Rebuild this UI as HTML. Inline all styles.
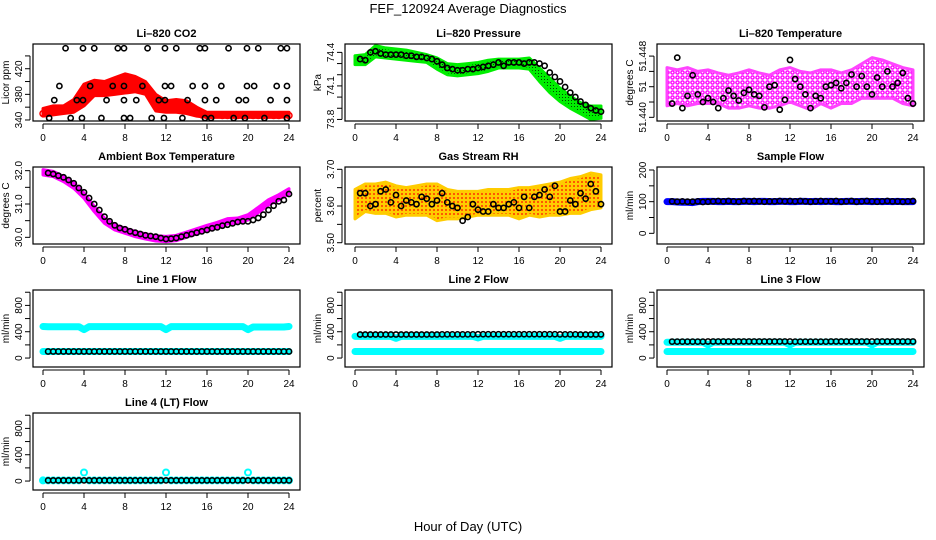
<!DOCTYPE html>
<html><head><meta charset="utf-8"><style>
html,body{margin:0;padding:0;background:#fff;}
svg{display:block;font-family:"Liberation Sans",sans-serif;}
</style></head><body>
<svg id="c" width="936" height="540" viewBox="0 0 936 540" xmlns="http://www.w3.org/2000/svg">
<defs>
<pattern id="pMag" width="5" height="5" patternUnits="userSpaceOnUse"><rect width="5" height="5" fill="#fff"/><circle cx="2.5" cy="2.5" r="1.6" fill="none" stroke="#ff00ff" stroke-width="1.4"/></pattern>
<pattern id="pRH" width="4" height="4" patternUnits="userSpaceOnUse"><rect width="4" height="4" fill="#ffcc00"/><circle cx="2" cy="2" r="1" fill="#ff3300"/></pattern>
<pattern id="pGrn" width="3" height="3" patternUnits="userSpaceOnUse"><rect width="3" height="3" fill="#00ee00"/><rect x="1" y="1" width="1" height="1" fill="#004400"/></pattern>
</defs>
<text x="468" y="13" text-anchor="middle" font-size="13">FEF_120924  Average Diagnostics</text>
<text x="468" y="531" text-anchor="middle" font-size="13">Hour of Day (UTC)</text>
</svg>
<script>
// ---- data ----
const hourTicks = [0,4,8,12,16,20,24];
const co2Lo = [346,348,350,352,362,378,378,380,382,384,380,354,352,352,350,346,344,344,344,344,344,344,344,344,345];
const co2Hi = [358,362,362,372,396,402,400,406,412,408,400,380,370,372,370,360,352,352,352,352,352,352,352,352,352];
const co2Red = [350,353,356,357,355,356,360,368,380,388,388,386,385,390,392,394,396,392,390,392,388,378,362,360,358,360,362,362,360,356,352,348,347,347,348,347,347,348,347,347,348,347,347,347,348,347,347,348,347];
const co2BlackHours = [2.2,3.9,5,7.3,7.9,10.2,11.9,13,15.3,15.8,18.1,19.9,21,23.2,23.8, 1.6,4.6,6.8,7.9,9.7,11.9,12.5,14.6,15.8,17.4,19.9,20.6,22.8,23.8, 1.1,3.3,3.9,6.2,7.9,9.1,11.3,11.9,14.1,15.8,16.9,19.1,19.8,22.2,23.8, 0.6,2.7,3.8,5.7,7.9,8.5,10.6,11.8,13.6,15.8,16.4,18.6,19.7,21.6,23.8];
const co2BlackVals = [452,452,452,452,452,452,452,452,452,452,452,452,452,452,452, 393,393,393,393,393,393,393,393,393,393,393,393,393,393, 371,371,371,371,371,371,371,371,371,371,371,371,371,371,371, 343,343,343,343,343,343,343,343,343,343,343,343,343,343,343];
const presLo = [74.29,74.29,74.36,74.35,74.34,74.33,74.32,74.31,74.25,74.20,74.19,74.20,74.21,74.23,74.26,74.26,74.26,74.25,74.14,74.04,73.96,73.90,73.85,73.80,73.81];
const presHi = [74.37,74.38,74.46,74.44,74.43,74.42,74.40,74.38,74.35,74.30,74.29,74.30,74.31,74.33,74.34,74.34,74.34,74.35,74.26,74.17,74.08,74.01,73.95,73.92,73.92];
const presBlack = [74.34,74.33,74.40,74.41,74.39,74.38,74.38,74.38,74.38,74.37,74.37,74.36,74.36,74.35,74.34,74.32,74.29,74.26,74.25,74.24,74.24,74.25,74.25,74.26,74.27,74.28,74.29,74.31,74.28,74.31,74.31,74.31,74.30,74.31,74.31,74.30,74.28,74.22,74.18,74.14,74.09,74.04,74.00,73.96,73.93,73.90,73.88,73.87];
const tempLo = [51.4415,51.4418,51.4415,51.4418,51.4418,51.4418,51.4412,51.4412,51.4415,51.4412,51.4412,51.4415,51.4420,51.4415,51.4410,51.4418,51.4412,51.4418,51.4418,51.4425,51.4425,51.4425,51.4425,51.4418,51.4415];
const tempHi = [51.4465,51.4462,51.4465,51.4460,51.4462,51.4458,51.4455,51.4458,51.4462,51.4458,51.4455,51.4462,51.4465,51.4460,51.4458,51.4462,51.4462,51.4458,51.4462,51.4470,51.4478,51.4475,51.4470,51.4465,51.4462];
const tempBlack = [51.4418,51.4478,51.4412,51.4428,51.4455,51.4430,51.4420,51.4425,51.4420,51.4412,51.4425,51.4435,51.4428,51.4422,51.4432,51.4436,51.4430,51.4428,51.4413,51.4440,51.4442,51.4410,51.4423,51.4475,51.4450,51.4440,51.4430,51.4412,51.4428,51.4425,51.4440,51.4442,51.4445,51.4438,51.4445,51.4456,51.4440,51.4454,51.4440,51.4430,51.4452,51.4440,51.4460,51.4440,51.4445,51.4458,51.4425,51.4418];
const ambLo = [31.87,31.82,31.67,31.47,31.17,30.77,30.42,30.22,30.12,30.02,29.95,29.89,29.87,29.90,30.00,30.10,30.20,30.29,30.40,30.42,30.52,30.74,30.97,31.12,31.30];
const ambHi = [32.03,31.98,31.83,31.63,31.33,30.93,30.58,30.38,30.28,30.18,30.11,30.05,30.03,30.06,30.16,30.26,30.36,30.45,30.56,30.58,30.68,30.90,31.13,31.28,31.46];
const ambBlack = [31.93,31.9,31.85,31.8,31.72,31.62,31.48,31.35,31.18,31.0,30.82,30.62,30.48,30.36,30.28,30.24,30.18,30.14,30.1,30.06,30.04,30.02,29.98,29.95,29.96,29.98,30.02,30.06,30.1,30.14,30.18,30.22,30.27,30.3,30.35,30.38,30.42,30.46,30.48,30.48,30.52,30.58,30.68,30.82,30.95,31.08,31.12,31.3];
const rhLo = [3.565,3.585,3.58,3.58,3.57,3.575,3.575,3.575,3.56,3.565,3.565,3.57,3.575,3.575,3.575,3.575,3.565,3.575,3.57,3.575,3.575,3.58,3.58,3.59,3.595];
const rhHi = [3.645,3.66,3.66,3.665,3.655,3.65,3.655,3.66,3.66,3.645,3.64,3.64,3.64,3.645,3.645,3.645,3.65,3.65,3.655,3.66,3.665,3.675,3.68,3.69,3.685];
const rhBlack = [3.635,3.635,3.60,3.605,3.64,3.645,3.61,3.63,3.60,3.615,3.61,3.605,3.625,3.62,3.605,3.615,3.635,3.61,3.60,3.595,3.56,3.57,3.605,3.59,3.585,3.585,3.605,3.595,3.595,3.605,3.61,3.595,3.625,3.595,3.625,3.63,3.645,3.625,3.655,3.585,3.585,3.615,3.605,3.635,3.62,3.66,3.64,3.605];
const sampleBlue = [100,100,99,98,98,97,100,101,101,101,100,100,101,100,100,101,101,100,101,101,100,100,101,101,100,100,101,101,100,101,100,101,101,100,100,101,101,100,101,101,100,101,100,101,100,101,100,100,100];
const sampleBlack = [101,100,101,100,100,101,99,100,101,102,101,102,101,100,102,101,102,101,100,101,101,102,101,102,101,102,101,100,101,102,101,101,102,100,101,102,100,101,102,101,100,101,102,101,101,100,101,102];
const line1CyanHi = [480,476,476,476,476,476,476,476,432,478,478,478,478,478,478,478,478,478,478,478,478,478,478,478,432,478,478,478,478,478,478,478,478,478,478,478,478,478,478,478,432,472,472,472,472,472,472,472,480];
const line1CyanLo = [100,100,100,100,100,100,100,100,100,100,100,100,100,100,100,100,100,100,100,100,100,100,100,100,100,100,100,100,100,100,100,100,100,100,100,100,100,100,100,100,100,100,100,100,100,100,100,100,100];
const line1Black = [100,100,100,100,100,100,100,100,100,100,100,100,100,100,100,100,100,100,100,100,100,100,100,100,100,100,100,100,100,100,100,100,100,100,100,100,100,100,100,100,100,100,100,100,100,100,100,100];
const line2CyanHi = [330,330,330,330,330,330,330,330,300,330,330,330,330,330,330,330,330,330,330,330,330,330,330,330,305,330,330,330,330,330,330,330,330,330,330,330,330,330,330,330,300,330,330,330,330,330,330,330,330];
const line2CyanLo = [100,100,100,100,100,100,100,100,100,100,100,100,100,100,100,100,100,100,100,100,100,100,100,100,100,100,100,100,100,100,100,100,100,100,100,100,100,100,100,100,100,100,100,100,100,100,100,100,100];
const line2Black = [358,358,358,358,358,358,358,358,358,358,358,358,358,358,358,358,360,360,360,360,360,360,360,362,362,362,362,362,362,362,362,362,362,362,362,362,362,362,362,360,360,360,360,358,358,358,358,360];
const line3CyanHi = [240,240,240,240,240,240,240,240,200,240,240,240,240,240,240,240,240,240,240,240,240,240,240,240,200,240,240,240,240,240,240,240,240,240,240,240,240,240,240,240,200,240,240,240,240,240,240,240,240];
const line3CyanLo = [100,100,100,100,100,100,100,100,100,100,100,100,100,100,100,100,100,100,100,100,100,100,100,100,100,100,100,100,100,100,100,100,100,100,100,100,100,100,100,100,100,100,100,100,100,100,100,100,100];
const line3Black = [250,250,250,250,250,250,250,252,252,252,252,252,252,252,252,252,252,252,252,252,252,252,252,252,250,250,250,250,250,250,250,252,252,252,252,252,252,252,252,252,252,252,252,252,252,252,252,252];
const line4Cyan = [10,10,10,10,10,10,10,10,130,10,10,10,10,10,10,10,10,10,10,10,10,10,10,10,130,10,10,10,10,10,10,10,10,10,10,10,10,10,10,10,130,10,10,10,10,10,10,10,10];
const line4Black = [10,10,10,10,10,10,10,10,10,10,10,10,10,10,10,10,10,10,10,10,10,10,10,10,10,10,10,10,10,10,10,10,10,10,10,10,10,10,10,10,10,10,10,10,10,10,10,10];

// ---- drawing ----
const NS = "http://www.w3.org/2000/svg";
const svg = document.getElementById('c');
function mk(tag, attrs, parent){ const e=document.createElementNS(NS,tag); for(const k in attrs) e.setAttribute(k,attrs[k]); (parent||svg).appendChild(e); return e; }
const hoursHourly = []; for(let i=0;i<=24;i++) hoursHourly.push(i);
const hoursHalf0 = []; for(let i=0;i<=48;i++) hoursHalf0.push(i*0.5);
const hoursHalf1 = []; for(let i=1;i<=48;i++) hoursHalf1.push(i*0.5);

function panel(cfg){
  const g = mk('g',{});
  
  
  const W=267,H=77;
  const xs = h => cfg.x0 + 10 + h*(246/24);
  const ys = v => cfg.y0 + (cfg.top - v)/(cfg.top - cfg.bot)*H;
  cfg.xs=xs; cfg.ys=ys; cfg.g=g;
  const t = mk('text',{x:cfg.x0+W/2,y:cfg.y0-7,'text-anchor':'middle','font-size':11,'font-weight':'bold'},g);
  t.textContent = cfg.title;
  
  
  const yb = cfg.y0+H;
  hourTicks.forEach(h=>{
    mk('line',{x1:xs(h),x2:xs(h),y1:yb+3,y2:yb+8,stroke:'#000','stroke-width':1},g);
    const tl = mk('text',{x:xs(h),y:yb+20,'text-anchor':'middle','font-size':10},g);
    tl.textContent = h;
    
    
  });
  mk('line',{x1:xs(0),x2:xs(24),y1:yb+3,y2:yb+3,stroke:'#000'},g);
  cfg.yticks.forEach(v=>{
    mk('line',{x1:cfg.x0-8,x2:cfg.x0-3,y1:ys(v),y2:ys(v),stroke:'#000'},g);
  });
  mk('line',{x1:cfg.x0-3,x2:cfg.x0-3,y1:ys(cfg.yticks[0]),y2:ys(cfg.yticks[cfg.yticks.length-1]),stroke:'#000'},g);
  cfg.ylabels.forEach((v,i)=>{
    const yy = ys(v);
    const tl = mk('text',{x:cfg.x0-11,y:yy,'text-anchor':'middle','font-size':10,transform:`rotate(-90 ${cfg.x0-11} ${yy})`},g);
    tl.textContent = cfg.ylabelText ? cfg.ylabelText[i] : v;
    
    
  });
  const yl = mk('text',{x:cfg.x0-24,y:cfg.y0+H/2,'text-anchor':'middle','font-size':10,transform:`rotate(-90 ${cfg.x0-24} ${cfg.y0+H/2})`},g);
  yl.textContent = cfg.ylab;
  
  
  const clipId = 'clip'+cfg.name;
  const cp = mk('clipPath',{id:clipId},g); mk('rect',{x:cfg.x0,y:cfg.y0,width:W,height:H},cp);
  cfg.plot = mk('g',{'clip-path':`url(#${clipId})`},g);
  const box = mk('rect',{x:cfg.x0,y:cfg.y0,width:W,height:H,fill:'none',stroke:'#000','stroke-width':1.2},g);
  
  
  cfg.box = box;
  return cfg;
}
function finish(p){ p.g.appendChild(p.box); }
function band(p, hours, lo, hi, fill, edge){
  let pts = hours.map((h,i)=>`${p.xs(h)},${p.ys(hi[i])}`);
  for(let i=hours.length-1;i>=0;i--) pts.push(`${p.xs(hours[i])},${p.ys(lo[i])}`);
  const e = mk('polygon',{points:pts.join(' '),fill:fill,stroke:edge,'stroke-width':3,'stroke-linejoin':'round'},p.plot);
  
  
}
function pts(p, hours, vals, color, r, sw, name){
  vals.forEach((v,i)=>{
    const c = mk('circle',{cx:p.xs(hours[i]),cy:p.ys(v),r:r,fill:'none',stroke:color,'stroke-width':sw},p.plot);
    
    
  });
}
function thick(p, hours, vals, color, w, name){
  const e = mk('polyline',{points:vals.map((v,i)=>`${p.xs(hours[i])},${p.ys(v)}`).join(' '),fill:'none',stroke:color,'stroke-width':w,'stroke-linejoin':'round','stroke-linecap':'round'},p.plot);
  
  
}

// Row 1
let p = panel({name:'co2-panel',title:'Li\u2013820 CO2',x0:33,y0:44,top:458.6,bot:338.4,yticks:[340,360,380,400,420,440],ylabels:[340,380,420],ylab:'Licor ppm'});
band(p,hoursHourly,co2Lo,co2Hi,'#ff0000','#ff0000');
pts(p,hoursHalf0,co2Red,'#ff0000',3,1.5,'co2-point');
pts(p,co2BlackHours,co2BlackVals,'#000',2.6,1.6,'co2-mean-point');
finish(p);

p = panel({name:'pressure-panel',title:'Li\u2013820 Pressure',x0:345,y0:44,top:74.475,bot:73.786,yticks:[73.8,73.9,74.0,74.1,74.2,74.3,74.4],ylabels:[73.8,74.1,74.4],ylab:'kPa'});
band(p,hoursHourly,presLo,presHi,'url(#pGrn)','#00ee00');
pts(p,hoursHalf1,presBlack,'#000',2.6,1.6,'pressure-mean-point');
finish(p);

p = panel({name:'temperature-panel',title:'Li\u2013820 Temperature',x0:657,y0:44,top:51.44958,bot:51.43952,yticks:[51.440,51.442,51.444,51.446,51.448],ylabels:[51.440,51.444,51.448],ylabelText:['51.440','51','51.448'],ylab:'degrees C'});
band(p,hoursHourly,tempLo,tempHi,'url(#pMag)','#ff44ff');
pts(p,hoursHalf1,tempBlack,'#000',2.6,1.6,'temperature-mean-point');
finish(p);

// Row 2
p = panel({name:'ambient-panel',title:'Ambient Box Temperature',x0:33,y0:167,top:32.11,bot:29.80,yticks:[30.0,30.5,31.0,31.5,32.0],ylabels:[30.0,31.0,32.0],ylabelText:['30.0','31.0','32.0'],ylab:'degrees C'});
band(p,hoursHourly,ambLo,ambHi,'#ff00ff','#ff00ff');
pts(p,hoursHalf1,ambBlack,'#000',2.6,1.6,'ambient-mean-point');
finish(p);

p = panel({name:'rh-panel',title:'Gas Stream RH',x0:345,y0:167,top:3.7063,bot:3.4965,yticks:[3.50,3.55,3.60,3.65,3.70],ylabels:[3.50,3.60,3.70],ylabelText:['3.50','3.60','3.70'],ylab:'percent'});
band(p,hoursHourly,rhLo,rhHi,'url(#pRH)','#ffcc00');
pts(p,hoursHalf1,rhBlack,'#000',2.6,1.6,'rh-mean-point');
finish(p);

p = panel({name:'sample-flow-panel',title:'Sample Flow',x0:657,y0:167,top:209.5,bot:-33.7,yticks:[0,50,100,150,200],ylabels:[0,100,200],ylab:'ml/min'});
thick(p,hoursHalf0,sampleBlue,'#0000ff',7,'sample-flow-line');
pts(p,hoursHalf1,sampleBlack,'#000',2.6,1.6,'sample-flow-mean-point');
finish(p);

// Row 3 & 4
const flowTicks=[0,200,400,600,800,1000];
function flowPanel(name,title,x0,y0){ return panel({name:name,title:title,x0:x0,y0:y0,top:1034,bot:-136,yticks:flowTicks,ylabels:[0,400,800],ylab:'ml/min'}); }
p = flowPanel('line1-panel','Line 1 Flow',33,290);
thick(p,hoursHalf0,line1CyanHi,'#00ffff',7,'line1-upper');
thick(p,hoursHalf0,line1CyanLo,'#00ffff',7,'line1-lower');
pts(p,hoursHalf1,line1Black,'#000',2.6,1.6,'line1-mean-point');
finish(p);
p = flowPanel('line2-panel','Line 2 Flow',345,290);
thick(p,hoursHalf0,line2CyanHi,'#00ffff',7,'line2-upper');
thick(p,hoursHalf0,line2CyanLo,'#00ffff',7,'line2-lower');
pts(p,hoursHalf1,line2Black,'#000',2.6,1.6,'line2-mean-point');
finish(p);
p = flowPanel('line3-panel','Line 3 Flow',657,290);
thick(p,hoursHalf0,line3CyanHi,'#00ffff',7,'line3-upper');
thick(p,hoursHalf0,line3CyanLo,'#00ffff',7,'line3-lower');
pts(p,hoursHalf1,line3Black,'#000',2.6,1.6,'line3-mean-point');
finish(p);
p = flowPanel('line4-panel','Line 4 (LT) Flow',33,413);
thick(p,hoursHalf0,line4Cyan.map(v=>Math.min(v,10)),'#00ffff',5,'line4-line');
pts(p,hoursHalf0,line4Cyan,'#00ffff',3,2,'line4-point');
pts(p,hoursHalf1,line4Black,'#000',2.6,1.6,'line4-mean-point');
finish(p);
</script>
</body></html>
